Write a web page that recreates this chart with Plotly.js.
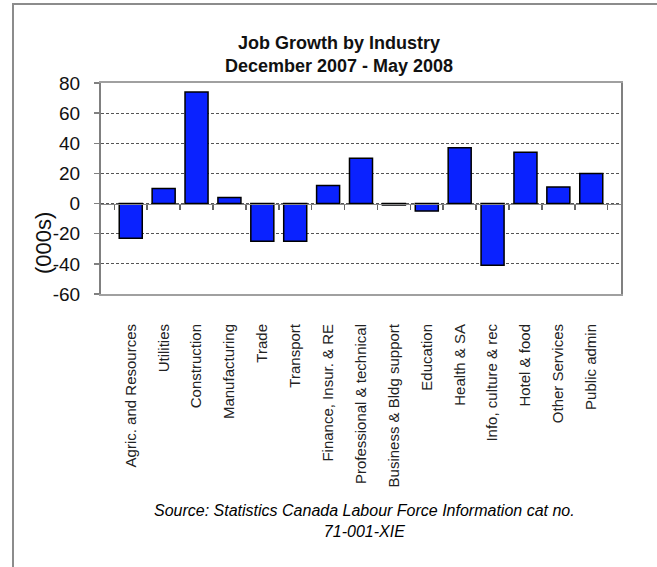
<!DOCTYPE html>
<html>
<head>
<meta charset="utf-8">
<script src="https://cdn.plot.ly/plotly-3.0.1.min.js"></script>
<style>
  html, body { margin: 0; padding: 0; background: #ffffff; }
  #chart { width: 657px; height: 567px; }
</style>
</head>
<body>
<div id="chart"></div>
<script>
const industries = [
  "Agric. and Resources", "Utilities", "Construction", "Manufacturing", "Trade",
  "Transport", "Finance, Insur. & RE", "Professional & technical",
  "Business & Bldg support", "Education", "Health & SA", "Info, culture & rec",
  "Hotel & food", "Other Services", "Public admin"
];
const jobGrowth = [-23, 10, 74, 4, -25, -25, 12, 30, -1, -5, 37, -41, 34, 11, 20];
const yTicks = [-60, -40, -20, 0, 20, 40, 60, 80];
const yTickText = ["-60", "-40", "-20", "0", "20", "40", "60", "80"];
const yMin = -60, yMax = 80;

const chartTitle = "Job Growth by Industry<br>December 2007 - May 2008";
const yLabel = "(000s)";
const sourceNote = "<i>Source: Statistics Canada Labour Force Information cat no.<br>71-001-XIE</i>";

const W = 657, H = 567;
const plotL = 101, plotR = 621, plotT = 83, plotB = 294;
const px2x = p => (p - plotL) / (plotR - plotL);
const py2y = p => (plotB - p) / (plotB - plotT);

const bars = {
  type: "bar",
  x: industries,
  y: jobGrowth,
  marker: { color: "#0a22ff", line: { color: "#000000", width: 1.5 } },
  hoverinfo: "x+y",
  showlegend: false
};
const zeroAxisTrace = {
  type: "scatter",
  mode: "markers",
  x: industries,
  y: jobGrowth,
  xaxis: "x2",
  marker: { opacity: 0 },
  hoverinfo: "skip",
  showlegend: false
};

const layout = {
  width: W, height: H,
  margin: { l: plotL, r: W - plotR, t: plotT, b: H - plotB },
  paper_bgcolor: "#ffffff",
  plot_bgcolor: "#ffffff",
  font: { family: "Liberation Sans, Arial, sans-serif", color: "#000000" },
  bargap: 0.3,
  title: {
    text: "<b>" + chartTitle + "</b>",
    font: { size: 18, color: "#111111", family: "Liberation Sans, Arial, sans-serif" },
    xref: "container", x: 339 / W, xanchor: "center",
    yref: "container", y: 1 - 49 / H, yanchor: "top"
  },
  xaxis: {
    type: "category",
    showline: true, linecolor: "#a0a0a0", linewidth: 2, mirror: true,
    ticks: "", showgrid: false, zeroline: false,
    tickangle: -90,
    tickfont: { size: 15, color: "#222222" },
    ticklabelstandoff: 22
  },
  xaxis2: {
    matches: "x", overlaying: "x", anchor: "free",
    position: (0 - yMin) / (yMax - yMin),
    showline: true, linecolor: "#888888", linewidth: 1.5,
    ticks: "outside", tickson: "boundaries", ticklen: 5, tickcolor: "#666666", tickwidth: 1.5,
    showticklabels: false, showgrid: false, zeroline: false
  },
  yaxis: {
    range: [yMin, yMax],
    tickvals: yTicks,
    ticktext: yTickText,
    showline: true, linecolor: "#808080", linewidth: 2, mirror: true,
    ticks: "outside", ticklen: 5, tickcolor: "#808080", tickwidth: 1.5,
    tickfont: { size: 19, color: "#111111" },
    ticklabelstandoff: 10,
    showgrid: true, gridcolor: "#555555", gridwidth: 1, griddash: "3px,2px",
    zeroline: false
  },
  annotations: [
    {
      text: yLabel, textangle: -90, showarrow: false,
      xref: "paper", yref: "paper", x: px2x(43), y: py2y(243),
      xanchor: "center", yanchor: "middle",
      font: { size: 22, color: "#111111" }
    },
    {
      text: sourceNote, showarrow: false,
      xref: "paper", yref: "paper", x: px2x(364), y: py2y(521),
      xanchor: "center", yanchor: "middle",
      font: { size: 16, color: "#000000" }
    }
  ],
  shapes: [
    { type: "line", xref: "paper", yref: "paper", x0: px2x(13), x1: px2x(13), y0: py2y(4), y1: py2y(H),
      line: { color: "#8c8c8c", width: 2 } },
    { type: "line", xref: "paper", yref: "paper", x0: px2x(12), x1: px2x(W), y0: py2y(4), y1: py2y(4),
      line: { color: "#8c8c8c", width: 2 } }
  ]
};

Plotly.newPlot("chart", [bars, zeroAxisTrace], layout, { displayModeBar: false, staticPlot: true });
</script>
</body>
</html>
